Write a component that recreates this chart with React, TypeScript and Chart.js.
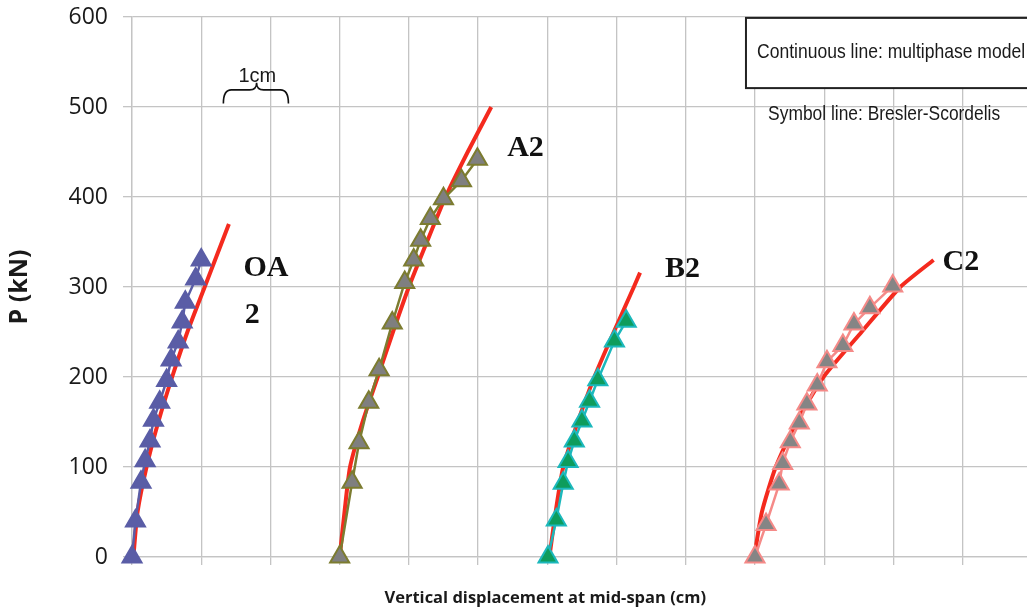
import React, { useEffect, useRef } from "react";
import { Chart, registerables } from "chart.js";

Chart.register(...registerables);

// ---- Data (x: vertical displacement in cm, y: load P in kN) ----
const OA2_SYM_X = [0, 0.05, 0.13, 0.19, 0.26, 0.31, 0.4, 0.5, 0.565, 0.667, 0.725, 0.77, 0.92, 1.0];
const OA2_SYM_Y = [0, 40, 83, 107, 129, 152, 172, 196, 219, 239, 261, 283, 309, 330];
const OA2_MOD_X = [0.02, 0.08, 0.21, 0.38, 0.58, 0.8, 1.05, 1.4];
const OA2_MOD_Y = [0, 50, 100, 150, 200, 250, 300, 370];

const A2_SYM_X = [3.0, 3.18, 3.28, 3.42, 3.57, 3.76, 3.94, 4.07, 4.17, 4.31, 4.5, 4.76, 4.99];
const A2_SYM_Y = [0, 83, 127, 172, 208, 260, 305, 330, 352, 376, 398, 418, 442];
const A2_MOD_X = [3.0, 3.07, 3.15, 3.33, 3.55, 3.77, 4.0, 4.26, 4.53, 4.85, 5.19];
const A2_MOD_Y = [0, 50, 100, 150, 200, 250, 300, 350, 400, 450, 500];

const B2_SYM_X = [6.01, 6.13, 6.23, 6.3, 6.39, 6.5, 6.61, 6.73, 6.97, 7.14];
const B2_SYM_Y = [0, 41, 82, 106, 129, 151, 173, 197, 240, 262];
const B2_MOD_X = [6.03, 6.12, 6.23, 6.44, 6.68, 6.96, 7.25, 7.34];
const B2_MOD_Y = [0, 50, 100, 150, 200, 250, 300, 316];

const C2_SYM_X = [9.0, 9.16, 9.35, 9.4, 9.51, 9.64, 9.75, 9.9, 10.04, 10.27, 10.43, 10.66, 10.99];
const C2_SYM_Y = [0, 36, 81, 104, 128, 149, 170, 191, 217, 235, 259, 277, 301];
const C2_MOD_X = [8.99, 9.1, 9.3, 9.6, 9.99, 10.54, 11.1, 11.58];
const C2_MOD_Y = [0, 50, 100, 150, 200, 250, 300, 330];

const Y_TICKS = [0, 100, 200, 300, 400, 500, 600];
const X_GRID = [0, 1, 2, 3, 4, 5, 6, 7, 8, 9, 10, 11, 12];

// Labels placed in data coordinates: [text, x, y]
const CURVE_LABELS: [string, number, number][] = [
  ["OA", 1.61, 312],
  ["2", 1.63, 260],
  ["A2", 5.42, 446],
  ["B2", 7.7, 311],
  ["C2", 11.71, 319],
];
const X_TITLE = "Vertical displacement at mid-span (cm)";
const Y_TITLE = "P (kN)";
const NOTE_1 = "Continuous line: multiphase model";
const NOTE_2 = "Symbol line: Bresler-Scordelis";
const SCALE_NOTE = "1cm";

const zip = (xs: number[], ys: number[]) => xs.map((x, i) => ({ x, y: ys[i] }));

const RED = "#F42A1E";
const GRID = "#C4C4C4";

const annotPlugin = {
  id: "annot",
  beforeDatasetsDraw(chart: any) {
    const { ctx, scales } = chart;
    const xs = scales.x;
    const ys = scales.y;
    const bx = xs.getPixelForValue(8.87);
    const by = ys.getPixelForValue(599);
    const bb = ys.getPixelForValue(521);
    ctx.save();
    ctx.fillStyle = "#ffffff";
    ctx.fillRect(bx, by, chart.width - bx + 10, bb - by);
    ctx.strokeStyle = "#222";
    ctx.lineWidth = 2;
    ctx.strokeRect(bx, by, chart.width - bx + 10, bb - by);
    ctx.restore();
  },
  afterDatasetsDraw(chart: any) {
    const { ctx, scales } = chart;
    const xs = scales.x;
    const ys = scales.y;
    ctx.save();
    ctx.fillStyle = "#111";
    ctx.font = "bold 30px 'Liberation Serif'";
    ctx.textBaseline = "alphabetic";
    ctx.textAlign = "left";
    for (const [t, x, y] of CURVE_LABELS) {
      ctx.fillText(t, xs.getPixelForValue(x), ys.getPixelForValue(y));
    }
    const condensed = (t: string, x: number, y: number, w: number) => {
      ctx.font = "21px 'Liberation Sans'";
      const m = ctx.measureText(t).width;
      ctx.save();
      ctx.translate(xs.getPixelForValue(x), ys.getPixelForValue(y));
      ctx.scale(w / m, 1);
      ctx.fillStyle = "#1a1a1a";
      ctx.fillText(t, 0, 0);
      ctx.restore();
    };
    condensed(NOTE_1, 9.03, 554, 268);
    condensed(NOTE_2, 9.19, 486, 232);
    ctx.font = "20px 'Liberation Sans'";
    ctx.fillStyle = "#1a1a1a";
    ctx.textAlign = "center";
    ctx.fillText(SCALE_NOTE, xs.getPixelForValue(1.81), ys.getPixelForValue(528));
    const x1 = xs.getPixelForValue(1.32);
    const x2 = xs.getPixelForValue(2.26);
    const xm = xs.getPixelForValue(1.8);
    const yb = ys.getPixelForValue(504);
    const yh = ys.getPixelForValue(519);
    const yt = ys.getPixelForValue(527);
    ctx.strokeStyle = "#111";
    ctx.lineWidth = 1.6;
    ctx.beginPath();
    ctx.moveTo(x1, yb);
    ctx.quadraticCurveTo(x1, yh, x1 + 8, yh);
    ctx.lineTo(xm - 7, yh);
    ctx.quadraticCurveTo(xm, yh, xm, yt);
    ctx.quadraticCurveTo(xm, yh, xm + 7, yh);
    ctx.lineTo(x2 - 8, yh);
    ctx.quadraticCurveTo(x2, yh, x2, yb);
    ctx.stroke();
    ctx.font = "bold 16.5px 'Open Sans'";
    ctx.fillStyle = "#1a1a1a";
    ctx.textAlign = "center";
    ctx.textBaseline = "middle";
    ctx.fillText(X_TITLE, xs.getPixelForValue(5.97), chart.height - 15);
    ctx.restore();
  },
};

export default function App() {
  const ref = useRef<HTMLCanvasElement | null>(null);
  useEffect(() => {
    if (!ref.current) return;
    const model = (xs: number[], ys: number[]) => ({
      data: zip(xs, ys),
      borderColor: RED,
      backgroundColor: RED,
      borderWidth: 4,
      pointRadius: 0,
      tension: 0.2,
      clip: false,
      order: 2,
    });
    const sym = (xs: number[], ys: number[], fill: string, edge: string, line: string) => ({
      data: zip(xs, ys),
      borderColor: line,
      backgroundColor: fill,
      borderWidth: 2.5,
      pointStyle: "triangle",
      pointRadius: 11,
      pointBackgroundColor: fill,
      pointBorderColor: edge,
      pointBorderWidth: 2,
      tension: 0,
      clip: false,
      order: 1,
    });
    const chart = new Chart(ref.current, {
      type: "line",
      data: {
        datasets: [
          model(OA2_MOD_X, OA2_MOD_Y),
          model(A2_MOD_X, A2_MOD_Y),
          model(B2_MOD_X, B2_MOD_Y),
          model(C2_MOD_X, C2_MOD_Y),
          sym(OA2_SYM_X, OA2_SYM_Y, "#5A5DA6", "#5A5DA6", "#5A5DA6"),
          sym(A2_SYM_X, A2_SYM_Y, "#7F7F7F", "#7C7C30", "#7C7C30"),
          sym(B2_SYM_X, B2_SYM_Y, "#0E9C5C", "#1CB8BC", "#1CB8BC"),
          sym(C2_SYM_X, C2_SYM_Y, "#858585", "#F58A88", "#F58A88"),
        ] as any,
      },
      options: {
        animation: false,
        responsive: false,
        layout: { autoPadding: false, padding: { top: 17, left: 0, right: 0, bottom: 0 } },
        plugins: { legend: { display: false }, tooltip: { enabled: false } },
        scales: {
          x: {
            type: "linear",
            min: 0,
            max: 12.93,
            afterBuildTicks: (s: any) => {
              s.ticks = X_GRID.map((v) => ({ value: v }));
            },
            afterFit: (s: any) => {
              s.height = 56;
              s.paddingLeft = 0;
              s.paddingRight = 0;
            },
            ticks: { callback: () => "", font: { size: 1 }, padding: 0 },
            grid: { color: GRID, lineWidth: 1.3, tickLength: 8 },
            border: { color: GRID, width: 1.3 },
          },
          y: {
            type: "linear",
            min: 0,
            max: 600,
            afterBuildTicks: (s: any) => {
              s.ticks = Y_TICKS.map((v) => ({ value: v }));
            },
            afterFit: (s: any) => {
              s.width = 132;
              s.paddingTop = 0;
              s.paddingBottom = 0;
            },
            ticks: {
              color: "#1a1a1a",
              padding: 15,
              font: { family: "'Open Sans'", size: 23 },
            },
            title: {
              display: true,
              text: Y_TITLE,
              color: "#1a1a1a",
              font: { family: "'Open Sans'", size: 25, weight: "bold" },
              padding: { top: 5, bottom: 0 },
            },
            grid: { color: GRID, lineWidth: 1.3, tickLength: 9 },
            border: { color: GRID, width: 1.3 },
          },
        },
      },
      plugins: [annotPlugin],
    });
    return () => chart.destroy();
  }, []);
  return (
    <div style={{ position: "fixed", left: 0, top: 0, width: 1027, height: 613, background: "#fff" }}>
      <canvas ref={ref} width={1027} height={613} />
    </div>
  );
}
